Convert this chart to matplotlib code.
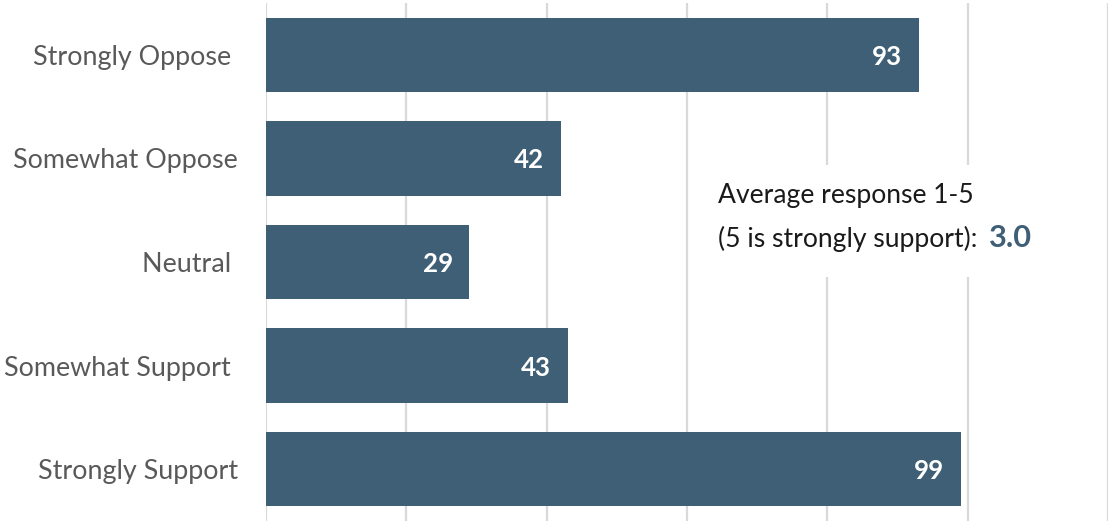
import matplotlib
matplotlib.use("Agg")
import matplotlib.pyplot as plt
from matplotlib.patches import Rectangle

categories = ["Strongly Oppose ", "Somewhat Oppose", "Neutral ", "Somewhat Support ", "Strongly Support"]
values = [93, 42, 29, 43, 99]
note_line1 = "Average response 1-5"
note_line2 = "(5 is strongly support):"
avg_text = "3.0"

bar_color = "#3e5f75"
plt.rcParams['font.family'] = ['Lato', 'DejaVu Sans']

W, H = 1111, 521
fig = plt.figure(figsize=(W / 100, H / 100), dpi=100)
ax = fig.add_axes([266 / W, 0.0, (1108 - 266) / W, 518 / H])

y = list(range(len(categories)))
ax.barh(y, values, height=0.72, color=bar_color, zorder=3)
ax.set_ylim(len(categories) - 0.5, -0.5)
ax.set_xlim(0, 120)
ax.set_xticks(range(0, 121, 20))
ax.xaxis.grid(True, color="#d9d9d9", linewidth=1.6, zorder=0)
ax.tick_params(axis='x', bottom=False, labelbottom=False)
ax.tick_params(axis='y', left=False, pad=20, labelsize=19, labelcolor="#595959")
ax.set_yticks(y)
ax.set_yticklabels(categories)
for s in ax.spines.values():
    s.set_visible(False)

fig.canvas.draw()
r = fig.canvas.get_renderer()

# fit category label size: "Somewhat Oppose" ~225 px wide
lab = ax.get_yticklabels()[1]
w = lab.get_window_extent(r).width
ls = 19 * 225 / w
ax.tick_params(axis='y', labelsize=ls)
fig.canvas.draw()
lab = ax.get_yticklabels()[1]
bb = lab.get_window_extent(r)
pad_pts = 20 + (bb.x1 - 238) * 72 / 100
ax.tick_params(axis='y', pad=pad_pts)

# value labels
probe = fig.text(0, 0, "93", fontsize=17.5, fontweight='bold')
pw = probe.get_window_extent(r).width
vs = 17.5 * 30 / pw
probe.remove()
px_per_unit = (1108 - 266) / 120
for yi, v in zip(y, values):
    ax.text(v - 16.5 / px_per_unit, yi + 0.02, str(v), ha='right', va='center', color='white',
            fontsize=vs, fontweight='bold', zorder=4)

# annotation with white background covering gridlines
fig.add_artist(Rectangle((705 / W, 1 - 277 / H), (1045 - 705) / W, (277 - 165) / H,
                         transform=fig.transFigure, facecolor='white', edgecolor='none', zorder=2))
t1 = fig.text(718 / W, 1 - 203 / H, note_line1, ha='left', va='baseline',
              fontsize=17.7, color="#1a1a1a", zorder=5)
w1 = t1.get_window_extent(r).width
ns = 17.7 * 256 / w1
t1.set_fontsize(ns)
t2 = fig.text(718 / W, 1 - 247 / H, note_line2, ha='left', va='baseline',
              fontsize=ns, color="#1a1a1a", zorder=5)
x_after = t2.get_window_extent(r).x1 + 12
t3 = fig.text(x_after / W, 1 - 247 / H, avg_text, ha='left', va='baseline',
              fontsize=21, fontweight='bold', color=bar_color, zorder=5)
w3 = t3.get_window_extent(r).width
t3.set_fontsize(21 * 43 / w3)

fig.savefig("out.png", dpi=100)
